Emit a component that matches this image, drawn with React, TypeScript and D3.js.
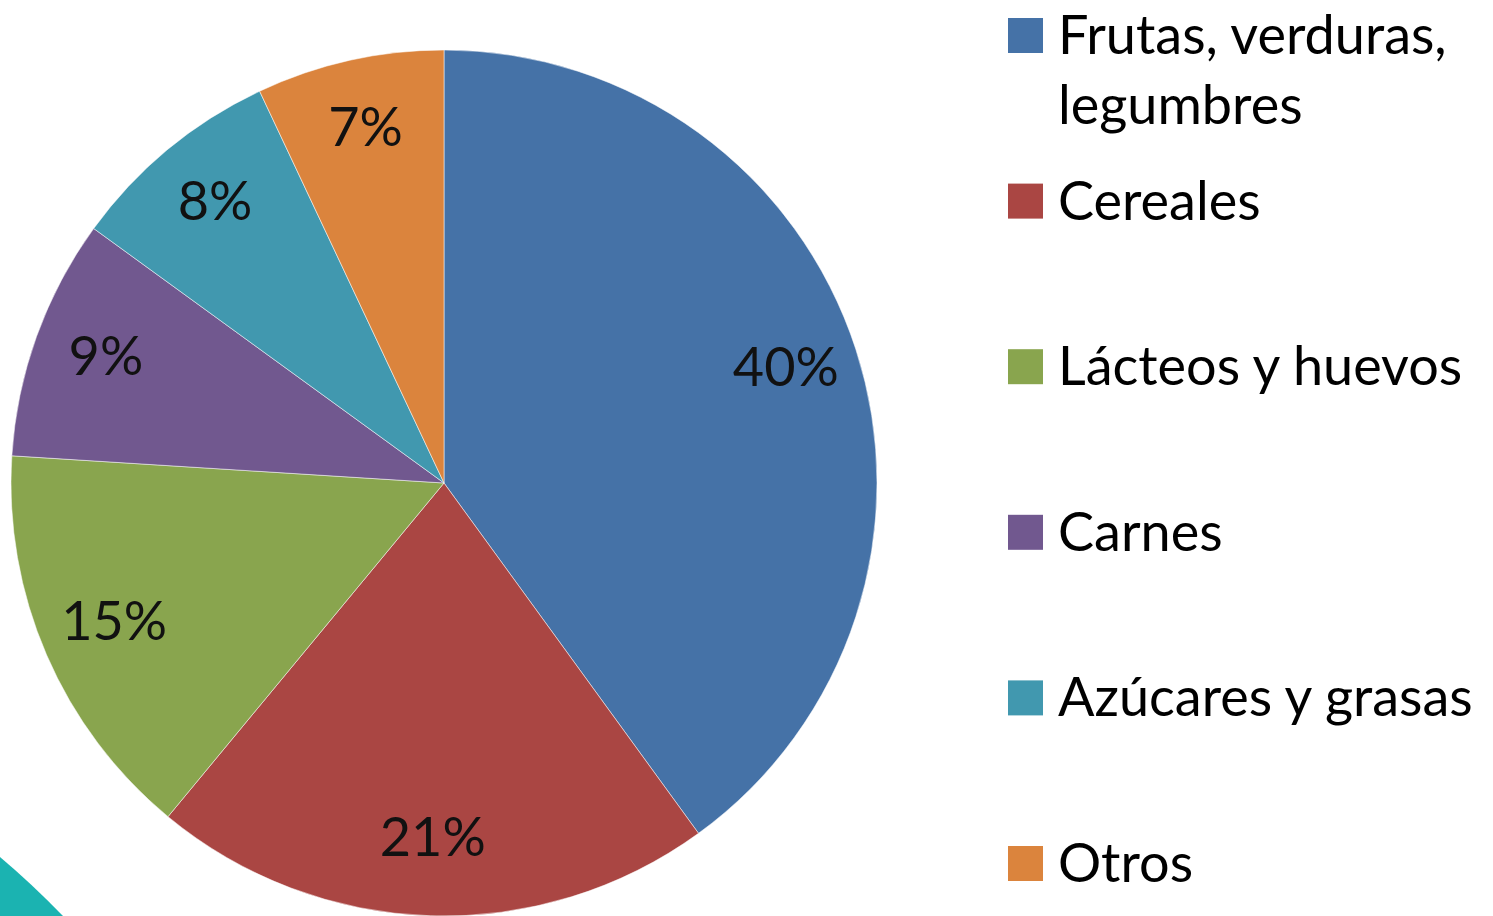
import React from 'react';
import * as d3 from 'd3';

const categories = [
  'Frutas, verduras, legumbres',
  'Cereales',
  'Lácteos y huevos',
  'Carnes',
  'Azúcares y grasas',
  'Otros',
];
const values = [40, 21, 15, 9, 8, 7];
const percentLabels = ['40%', '21%', '15%', '9%', '8%', '7%'];
const legendLines = [
  ['Frutas, verduras,', 'legumbres'],
  ['Cereales'],
  ['Lácteos y huevos'],
  ['Carnes'],
  ['Azúcares y grasas'],
  ['Otros'],
];
const colors = ['#4572A7', '#AA4643', '#89A54E', '#71588F', '#4198AF', '#DB843D'];

const W = 1493;
const H = 916;
const FONT = 'Lato, "Open Sans", sans-serif';

const App = () => {
  const cx = 444;
  const cy = 483;
  const radius = 433;

  const pie = d3.pie<number>().sort(null).value(d => d);
  const arcs = pie(values);

  const arc = d3.arc<d3.PieArcDatum<number>>().innerRadius(0).outerRadius(radius);
  const labelArc = d3
    .arc<d3.PieArcDatum<number>>()
    .innerRadius(radius * 0.83)
    .outerRadius(radius * 0.83);

  // legend rows, evenly spaced down the right side
  const legendY = d3.scaleLinear().domain([0, categories.length - 1]).range([35, 863]);

  return (
    <svg
      width={W}
      height={H}
      style={{ position: 'absolute', left: 0, top: 0, background: '#fff' }}
      fontFamily={FONT}
    >
      {/* decorative teal corner from the slide */}
      <path d="M0,857 Q32,884 63,916 L0,916 Z" fill="#1BB3B1" />

      <g transform={`translate(${cx},${cy})`}>
        {arcs.map((a, i) => (
          <path
            key={categories[i]}
            d={arc(a) || ''}
            fill={colors[i]}
            stroke="#ffffff"
            strokeOpacity={0.5}
            strokeWidth={1}
          />
        ))}
        {arcs.map((a, i) => {
          const [x, y] = labelArc.centroid(a);
          return (
            <text
              key={'l' + i}
              x={x}
              y={y}
              dy="0.26em"
              textAnchor="middle"
              fontSize={54}
              fill="#111"
            >
              {percentLabels[i]}
            </text>
          );
        })}
      </g>

      <g>
        {categories.map((c, i) => {
          const y = legendY(i);
          return (
            <g key={c}>
              <rect x={1008} y={y - 17} width={35} height={35} fill={colors[i]} />
              {legendLines[i].map((line, j) => (
                <text key={j} x={1058} y={y + 19 + j * 70} fontSize={54} fill="#000">
                  {line}
                </text>
              ))}
            </g>
          );
        })}
      </g>
    </svg>
  );
};

export default App;
